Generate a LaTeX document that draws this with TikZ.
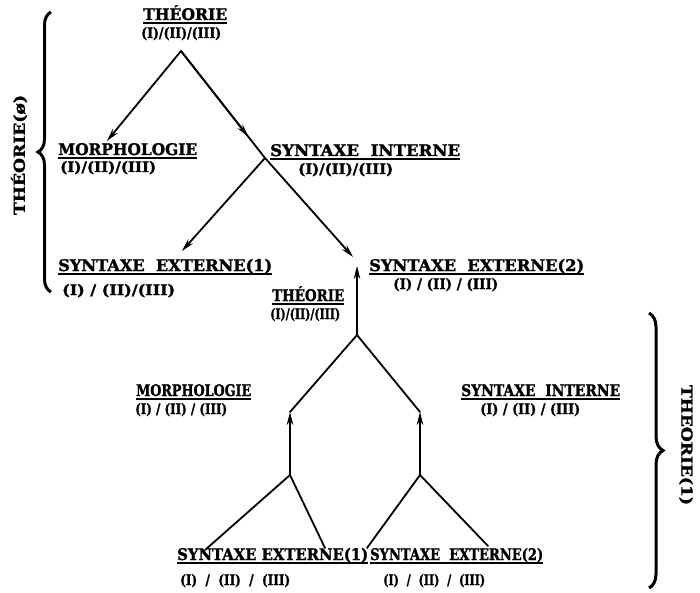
\documentclass[tikz,border=0pt]{standalone}
\usepackage{fontspec}
\setmainfont{DejaVu Serif}[BoldFeatures={FakeBold=1.6}]
\usetikzlibrary{arrows.meta,decorations.pathreplacing,calc}
% squeeze or stretch a text horizontally to a given width (in pt)
\newcommand\fitw[2]{\setbox0\hbox{#2}\pgfmathsetmacro\fitratio{#1/\wd0}\scalebox{\fitratio}[1]{#2}}
\begin{document}
\begin{tikzpicture}[x=1pt,y=-1pt,
  head/.style={anchor=base west, font=\bfseries\fontsize{16}{16}\selectfont,
    inner sep=0pt, text depth=2.8pt, text height=11pt,
    append after command={(\tikzlastnode.south west) edge[draw, line width=1.4pt] (\tikzlastnode.south east)}},
  sub/.style={anchor=base west, font=\bfseries\fontsize{14.5}{14.5}\selectfont, inner sep=0pt},
  side/.style={font=\bfseries\fontsize{15}{15}\selectfont, inner sep=0pt},
  link/.style={line width=1.8pt, line cap=round},
  arr/.style={link, -{Stealth[length=13pt,width=6.5pt]}},
  brc/.style={decorate, decoration={brace, amplitude=#1}, line width=3pt},
  brc/.default=13pt]
\useasboundingbox (0,0) rectangle (700,593);

% ---------- upper tree: THEORIE(0) ----------
\node[head] (t0) at (143,20) {\fitw{84}{THÉORIE}};
\node[sub]  (t0s) at (141,38) {\fitw{80}{(I)/(II)/(III)}};
\node[head] (m0) at (58,155) {\fitw{139}{MORPHOLOGIE}};
\node[sub]  (m0s) at (60,172) {\fitw{96}{(I)/(II)/(III)}};
\node[head] (si0) at (270,156) {\fitw{190}{SYNTAXE\ \ INTERNE}};
\node[sub]  (si0s) at (298,174) {\fitw{95}{(I)/(II)/(III)}};
\node[head] (se10) at (58,271) {\fitw{214}{SYNTAXE\ \ EXTERNE(1)}};
\node[sub]  (se10s) at (62,295) {\fitw{113}{(I) / (II)/(III)}};
\node[head] (se20) at (369,271) {\fitw{215}{SYNTAXE\ \ EXTERNE(2)}};
\node[sub]  (se20s) at (393,289) {\fitw{105}{(I) / (II) / (III)}};

\coordinate (a0) at (181,51);
\coordinate (j0) at (265,158);
\coordinate (m0in) at (107,141);
\coordinate (se10in) at (182,251);
\coordinate (se20in) at (353,257);

\draw[arr] (a0) -- (m0in);
\draw[link] (a0) -- (j0);
\draw[arr] (a0) -- ($(a0)!0.8!(j0)$);
\draw[arr] (j0) -- (se10in);
\draw[arr] (j0) -- (se20in);

\draw[brc] (51,292) -- (51,12);
\node[side, rotate=90] (l0) at (19,155) {\fitw{120}{THÉORIE(\o)}};

% ---------- lower tree: THEORIE(1) ----------
\node[head] (t1) at (272,301) {\fitw{72}{THÉORIE}};
\node[sub]  (t1s) at (270,319) {\fitw{70}{(I)/(II)/(III)}};
\node[head] (m1) at (136,396) {\fitw{115}{MORPHOLOGIE}};
\node[sub]  (m1s) at (135,414) {\fitw{92}{(I) / (II) / (III)}};
\node[head] (si1) at (461,396) {\fitw{159}{SYNTAXE\ \ INTERNE}};
\node[sub]  (si1s) at (480,414) {\fitw{100}{(I) / (II) / (III)}};
\node[head] (se11) at (177,560) {\fitw{191}{SYNTAXE\ EXTERNE(1)}};
\node[sub]  (se11s) at (180,585) {\fitw{110}{(I)\ \ /\ \ (II)\ \ /\ \ (III)}};
\node[head] (se21) at (370,560) {\fitw{173}{SYNTAXE\ \ EXTERNE(2)}};
\node[sub]  (se21s) at (383,585) {\fitw{102}{(I)\ \ /\ \ (II)\ \ /\ \ (III)}};

\coordinate (a1) at (357,335);
\coordinate (up1) at (357,266);
\coordinate (k1) at (290,412);
\coordinate (k2) at (420,412);
\coordinate (b1) at (290,475);
\coordinate (b2) at (420,475);
\coordinate (f1) at (205,550);
\coordinate (f2) at (325,548);
\coordinate (f3) at (367,548);
\coordinate (f4) at (488,546);

\draw[arr] (a1) -- (up1);
\draw[link] (a1) -- (k1);
\draw[link] (a1) -- (k2);
\draw[arr] (b1) -- (k1);
\draw[arr] (b2) -- (k2);
\draw[link] (b1) -- (f1);
\draw[link] (b1) -- (f2);
\draw[link] (b2) -- (f3);
\draw[link] (b2) -- (f4);

\draw[brc=14pt] (649,313) -- (649,588);
\node[side, rotate=-90] (l1) at (686,445) {\fitw{120}{THEORIE(1)}};
\end{tikzpicture}
\end{document}
